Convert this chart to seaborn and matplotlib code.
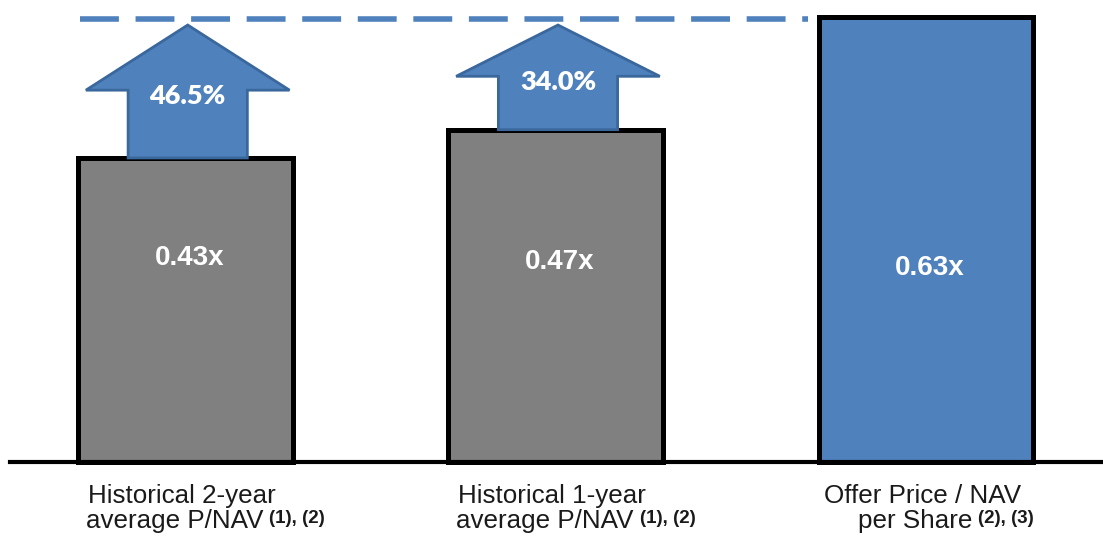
import matplotlib
matplotlib.use("Agg")
import matplotlib.pyplot as plt
import seaborn as sns
import pandas as pd
from matplotlib.patches import Polygon

# P/NAV multiples
categories = ["hist_2y", "hist_1y", "offer"]
multiples = [0.43, 0.47, 0.63]
value_labels = ["0.43x", "0.47x", "0.63x"]
premiums = [46.5, 34.0]  # offer premium over each historical average, %
label_line1 = ["Historical 2-year", "Historical 1-year", "Offer Price / NAV"]
label_line2 = ["average P/NAV", "average P/NAV", "per Share"]
footnotes = ["(1), (2)", "(1), (2)", "(2), (3)"]

GREY = "#808080"
BLUE = "#4F81BD"
ARROW_EDGE = "#3A679C"
TEXT = "#1a1a1a"
DPI = 100

sns.set_style("white")
plt.rcParams["font.family"] = ["Liberation Sans", "DejaVu Sans"]

fig = plt.figure(figsize=(11.03, 5.36), dpi=DPI)
ax = fig.add_axes([10 / 1103, 1 - 462 / 536, 1 - 10 / 1103, 462 / 536])

df = pd.DataFrame({"cat": categories, "mult": multiples})
sns.barplot(data=df, x="cat", y="mult", hue="cat",
            palette=[GREY, GREY, BLUE], width=0.58,
            edgecolor="black", linewidth=3.6, saturation=1,
            legend=False, ax=ax)
for p in ax.patches:
    p.set_clip_on(False)

ax.set_xlim(-0.474, 2.478)
ax.set_ylim(0, 0.6534)

# axis styling: only the baseline with ticks between categories
for side in ("left", "right", "top"):
    ax.spines[side].set_visible(False)
ax.spines["bottom"].set_linewidth(3)
ax.spines["bottom"].set_color("black")
ax.set_yticks([])
ax.set_xticks([0.5, 1.5])
ax.set_xticklabels([])
ax.tick_params(axis="x", direction="out", length=6, width=3, color="black")
ax.set_xlabel("")
ax.set_ylabel("")

# target level of the offer multiple (drawn just under the bar's top edge)
target = multiples[-1]
ax.plot([-0.285, 1.681], [target - 0.004] * 2, color=BLUE, lw=4,
        dashes=(7, 3), solid_capstyle="butt", dash_capstyle="butt",
        clip_on=False, zorder=3)

# premium arrows from each historical bar up toward the offer level
shaft_hw, head_hw = 0.161, 0.275
tip = target - 0.012
for i, (base, prem) in enumerate(zip(multiples[:2], premiums)):
    cx = i + 0.006
    head_base = tip - 0.49 * (tip - base)
    verts = [
        (cx - shaft_hw, base), (cx - shaft_hw, head_base),
        (cx - head_hw, head_base), (cx, tip),
        (cx + head_hw, head_base), (cx + shaft_hw, head_base),
        (cx + shaft_hw, base),
    ]
    ax.add_patch(Polygon(verts, closed=True, facecolor=BLUE,
                         edgecolor=ARROW_EDGE, linewidth=2, zorder=2,
                         clip_on=False))
    ax.annotate(f"{prem:.1f}%", xy=(cx, (base + tip) / 2),
                xytext=(0, -3), textcoords="offset points",
                ha="center", va="center", color="white",
                fontsize=19.5, fontweight="heavy", family=["Lato", "DejaVu Sans"],
                zorder=4)

# multiples inside the bars
label_y = [0.289, 0.283, 0.274]
for i, (lab, ly) in enumerate(zip(value_labels, label_y)):
    ax.text(i + 0.01, ly, lab, ha="center", va="center", color="white",
            fontsize=20, fontweight="bold", zorder=4)

# category labels below the axis; second line carries superscript footnotes
px2pt = 72 / DPI
line1_drop, line2_drop, sup_drop = 41 * px2pt, 66 * px2pt, 61 * px2pt
sup_gap, line2_shift = 6, 20  # pixels
mains, sups = [], []
for i in range(3):
    ax.annotate(label_line1[i], xy=(i, 0), xycoords=("data", "axes fraction"),
                xytext=(-2.5, -line1_drop), textcoords="offset points",
                ha="center", va="baseline", fontsize=18.7, color=TEXT,
                annotation_clip=False)
    m = ax.annotate(label_line2[i], xy=(i, 0), xycoords=("data", "axes fraction"),
                    xytext=(0, -line2_drop), textcoords="offset points",
                    ha="left", va="baseline", fontsize=18.7, color=TEXT,
                    annotation_clip=False)
    s = ax.annotate(footnotes[i], xy=(i, 0), xycoords=("data", "axes fraction"),
                    xytext=(0, -sup_drop), textcoords="offset points",
                    ha="left", va="baseline", fontsize=13.5, fontweight="bold",
                    color=TEXT, annotation_clip=False)
    mains.append(m)
    sups.append(s)

fig.canvas.draw()
renderer = fig.canvas.get_renderer()
for m, s in zip(mains, sups):
    wm = m.get_window_extent(renderer).width
    ws = s.get_window_extent(renderer).width
    left = line2_shift - (wm + sup_gap + ws) / 2
    m.set_position((left * px2pt, -line2_drop))
    s.set_position(((left + wm + sup_gap) * px2pt, -sup_drop))

fig.savefig("out.png", dpi=DPI)
